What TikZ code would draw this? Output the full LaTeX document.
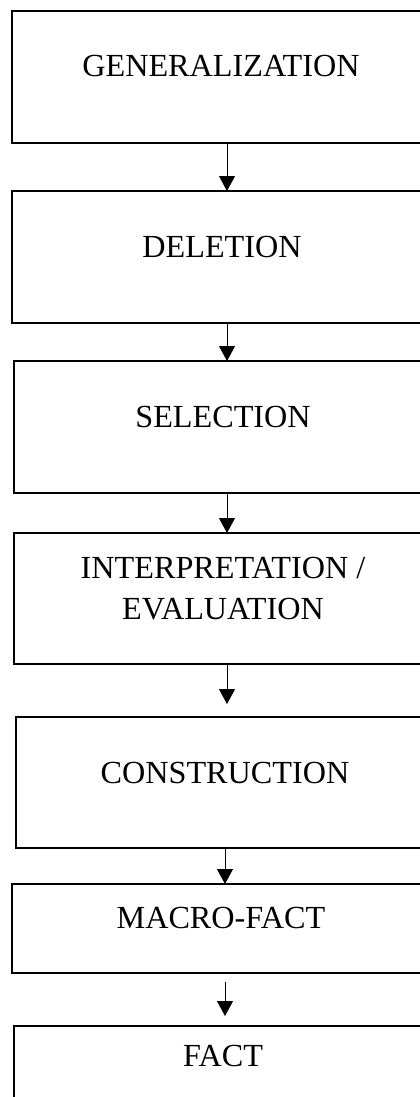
\documentclass[tikz,border=0pt]{standalone}
\usepackage{fontspec}
\setmainfont{Liberation Serif}
\usetikzlibrary{arrows.meta}
\begin{document}
\begin{tikzpicture}[x=1pt,y=-1pt,
  box/.style={draw, line width=2pt, inner sep=0pt, outer sep=0pt, anchor=north west, minimum width=440pt},
  lbl/.style={anchor=base, inner sep=0pt, align=center, font=\fontsize{32.2}{41}\selectfont},
  arr/.style={-{Triangle[length=15pt,width=16pt]}, line width=1pt}]
\useasboundingbox (0,0) rectangle (420,1097);
\clip (0,0) rectangle (420,1097);
\coordinate (ax) at (227,0);
\coordinate (bx) at (225,0);
\node[box, minimum height=132pt] (b1) at (12,11) {};
\node[box, minimum height=132pt] (b2) at (12,191) {};
\node[box, minimum height=132pt] (b3) at (14,361) {};
\node[box, minimum height=131pt] (b4) at (14,533) {};
\node[box, minimum height=131pt] (b5) at (16,717) {};
\node[box, minimum height=89pt] (b6) at (12,884) {};
\node[box, minimum height=120pt] (b7) at (14,1026) {};
\node[lbl] (t1) at (221,77) {GENERALIZATION};
\node[lbl] (t2) at (222,257) {DELETION};
\node[lbl] (t3) at (223,427) {SELECTION};
\node[lbl] (t4) at (223,619) {INTERPRETATION /\\EVALUATION};
\node[lbl] (t5) at (225,783) {CONSTRUCTION};
\node[lbl] (t6) at (221,928) {MACRO-FACT};
\node[lbl] (t7) at (223,1066) {FACT};
\draw[arr] (b1.south -| ax) -- (b2.north -| ax);
\draw[arr] (b2.south -| ax) -- (b3.north -| ax);
\draw[arr] (b3.south -| ax) -- (b4.north -| ax);
\draw[arr, shorten >=13pt] (b4.south -| ax) -- (b5.north -| ax);
\draw[arr] (b5.south -| bx) -- (b6.north -| bx);
\draw[arr, shorten <=9pt, shorten >=10pt] (b6.south -| bx) -- (b7.north -| bx);
\end{tikzpicture}
\end{document}
